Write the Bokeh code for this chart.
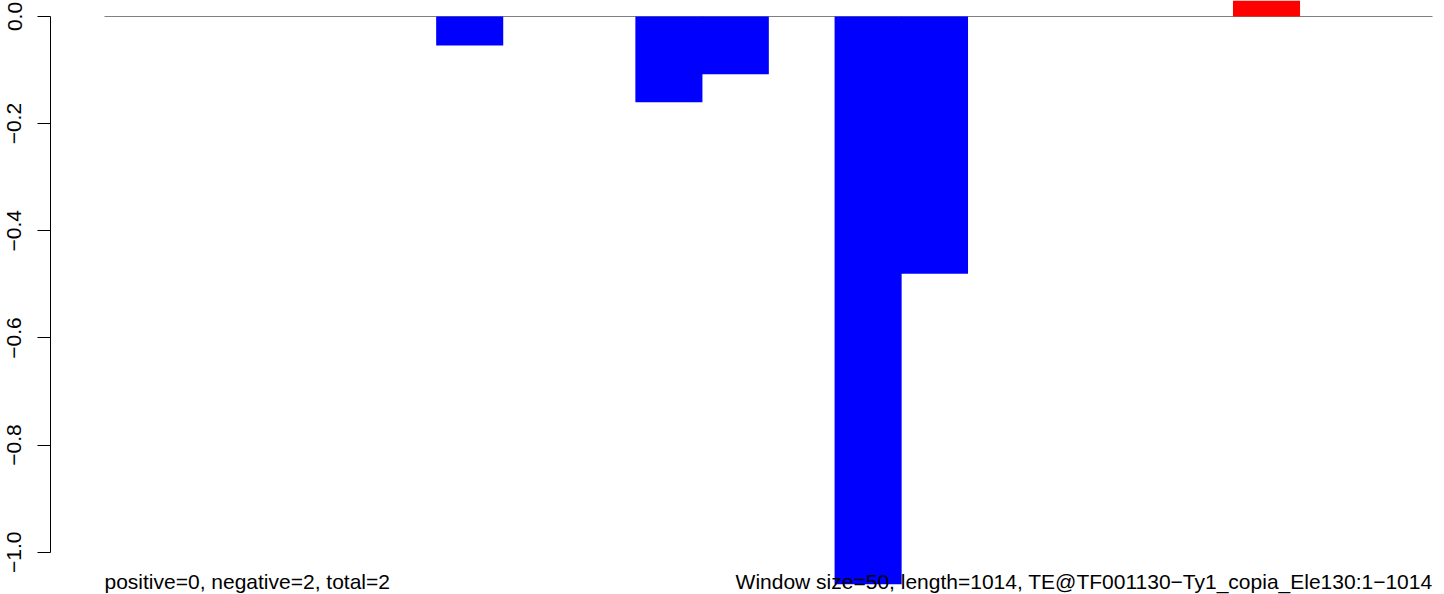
from bokeh.plotting import figure
from bokeh.models import Range1d, FixedTicker, Label, ColumnDataSource
from bokeh.embed import file_html
from bokeh.resources import INLINE

# ---- data ----
window_size = 50
seq_length = 1014
window_index = list(range(20))
scores = [0.0, 0.0, 0.0, 0.0, 0.0, -0.054, 0.0, 0.0, -0.160, -0.108,
          0.0, -1.060, -0.480, 0.0, 0.0, 0.0, 0.0, 0.06, 0.0, 0.0]
y_ticks = [-1.0, -0.8, -0.6, -0.4, -0.2, 0.0]
y_tick_labels = ["\u22121.0", "\u22120.8", "\u22120.6", "\u22120.4", "\u22120.2", "0.0"]
left_note = "positive=0, negative=2, total=2"
right_note = "Window size=50, length=1014, TE@TF001130\u2212Ty1_copia_Ele130:1\u22121014"
pos_color = "#FF0000"
neg_color = "#0000FF"

# ---- layout ----
W, H = 1444, 594
frame_left = 50
bars_left, bars_right = 104, 1432
n = len(scores)
px_per_bar = (bars_right - bars_left) / n
x_start = -(bars_left - frame_left) / px_per_bar
x_end = (W - bars_left) / px_per_bar
zero_px = 16
px_per_unit = 535.7
y_end = zero_px / px_per_unit
y_start = -(H - zero_px) / px_per_unit
note_bottom_px = 592  # bottom of the note text box, from top of canvas
note_y = -(note_bottom_px - zero_px) / px_per_unit

src = ColumnDataSource(dict(
    x=[i + 0.5 for i in window_index],
    top=scores,
    color=[pos_color if v > 0 else neg_color for v in scores],
))

p = figure(width=W, height=H, output_backend="svg", toolbar_location=None,
           x_range=Range1d(x_start, x_end), y_range=Range1d(y_start, y_end),
           x_axis_location=None, y_axis_location="left",
           min_border=0, min_border_left=frame_left)
p.outline_line_color = None
p.grid.visible = False
p.background_fill_color = "white"
p.border_fill_color = "white"

p.segment(x0=[0], y0=[0], x1=[n], y1=[0], line_color="#808080", line_width=1.2)
p.vbar(x="x", top="top", bottom=0, width=1.01, source=src,
       fill_color="color", line_color=None)

ax = p.yaxis[0]
ax.ticker = FixedTicker(ticks=y_ticks)
ax.major_label_overrides = dict(zip(y_ticks, y_tick_labels))
ax.bounds = (min(y_ticks), max(y_ticks))
ax.axis_line_color = "black"
ax.axis_line_width = 1
ax.major_tick_line_color = "black"
ax.major_tick_line_width = 1
ax.major_tick_out = 13
ax.major_tick_in = 0
ax.minor_tick_line_color = None
ax.major_label_orientation = "vertical"
ax.major_label_standoff = 16
ax.major_label_text_font = "Liberation Sans"
ax.major_label_text_font_size = "21px"
ax.major_label_text_color = "black"

for txt, xv, align in [(left_note, 0, "left"), (right_note, n, "right")]:
    p.add_layout(Label(x=xv, y=note_y, text=txt, text_align=align,
                       text_baseline="bottom", text_font="Liberation Sans",
                       text_font_size="21px", text_color="black"))

open("out.html", "w").write(file_html(p, INLINE))
